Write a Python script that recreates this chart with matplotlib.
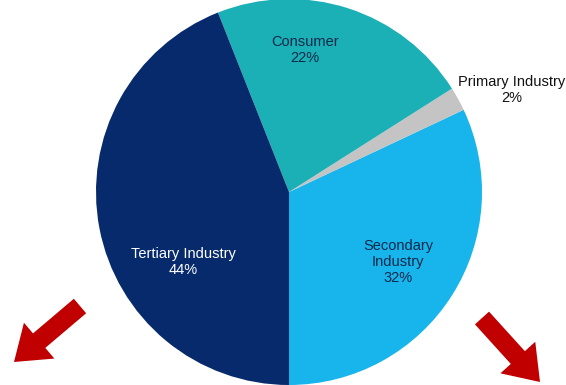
import matplotlib.pyplot as plt
from matplotlib.patches import FancyArrow

# share of each segment, counter-clockwise from straight down
labels = ["Secondary\nIndustry", "Primary Industry", "Consumer", "Tertiary Industry"]
shares = [32, 2, 22, 44]
colors = ["#18b4ec", "#c4c4c4", "#1bafb6", "#062a6c"]
text_colors = ["#0b2a4a", "#111111", "#0b2a4a", "white"]

plt.rcParams['font.family'] = ['Liberation Sans', 'DejaVu Sans']

fig = plt.figure(figsize=(5.66, 3.85), dpi=100)
ax = fig.add_axes([0, 0, 1, 1])

wedges, texts = ax.pie(shares, colors=colors, startangle=270, counterclock=True,
                       center=(289, 193), radius=193,
                       wedgeprops=dict(linewidth=0))
ax.set_xlim(0, 566)
ax.set_ylim(0, 385)
ax.set_aspect('equal')
ax.axis('off')

# label positions in pixel coords
label_pos = [(398, 123), (512, 295), (305, 335), (183, 123)]
for lab, val, (x, y), c in zip(labels, shares, label_pos, text_colors):
    ax.text(x, y, f"{lab}\n{val}%", ha='center', va='center', fontsize=10.5,
            color=c, linespacing=1.15)

# red arrows pointing down
red = "#c00000"
ax.add_patch(FancyArrow(80, 79, -66, -56, width=19, head_width=47, head_length=33,
                        length_includes_head=True, color=red, linewidth=0))
ax.add_patch(FancyArrow(482, 67, 58, -64, width=19, head_width=47, head_length=33,
                        length_includes_head=True, color=red, linewidth=0))

fig.savefig("out.png", dpi=100)
